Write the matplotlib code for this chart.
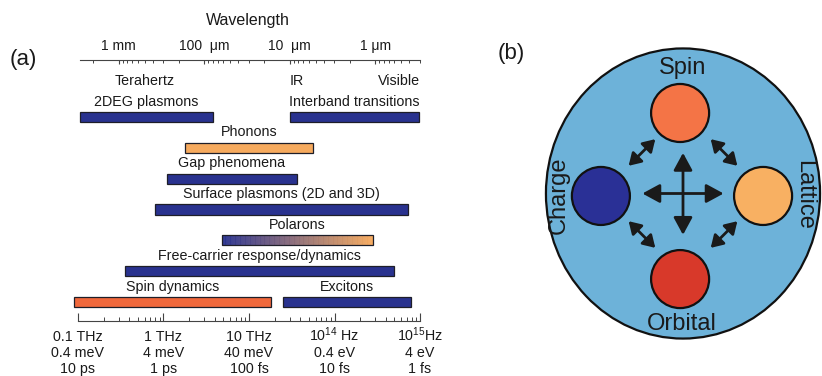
import matplotlib
matplotlib.use('Agg')
import matplotlib.pyplot as plt
import numpy as np
from matplotlib.patches import Circle, Ellipse, FancyArrowPatch
from matplotlib.colors import to_rgb
from matplotlib.ticker import NullFormatter

plt.rcParams['font.family'] = ['Liberation Sans', 'DejaVu Sans']
plt.rcParams['mathtext.fontset'] = 'custom'
plt.rcParams['mathtext.rm'] = 'Liberation Sans'
plt.rcParams['mathtext.it'] = 'Liberation Sans:italic'

# ============================================================
# data: panel (a)  -- frequency ranges in Hz
# ============================================================
names = ['2DEG plasmons', 'Interband transitions', 'Phonons', 'Gap phenomena',
         'Surface plasmons (2D and 3D)', 'Polarons',
         'Free-carrier response/dynamics', 'Spin dynamics', 'Excitons']
f_lo = [1.05e11, 3.0e13, 1.8e12, 1.1e12, 8.0e11, 4.8e12, 3.5e11, 9.0e10, 2.5e13]
f_hi = [3.8e12, 9.8e14, 5.6e13, 3.6e13, 7.3e14, 2.8e14, 5.0e14, 1.8e13, 7.9e14]
rows = [0, 0, 1, 2, 3, 4, 5, 6, 6]
kinds = ['blue', 'blue', 'orange', 'blue', 'blue', 'grad', 'blue', 'spin', 'blue']

freq_ticks = [1e11, 1e12, 1e13, 1e14, 1e15]
freq_line1 = ['0.1 THz', '1 THz', '10 THz', '$10^{14}$ Hz', '$10^{15}$Hz']
freq_line2 = ['0.4 meV', '4 meV', '40 meV', '0.4 eV', '4 eV']
freq_line3 = ['10 ps', '1 ps', '100 fs', '10 fs', '1 fs']
wl_ticks = [1e-3, 1e-4, 1e-5, 1e-6]          # metres
wl_labels = ['1 mm', '100  μm', '10  μm', '1 μm']

band_names = ['Terahertz', 'IR', 'Visible']
band_f = [6.0e11, 3.0e13, 1.0e15]
band_ha = ['center', 'left', 'right']

# ============================================================
# data: panel (b)  -- diagram
# ============================================================
nodes = ['Spin', 'Charge', 'Lattice', 'Orbital']
node_x = [-0.02, -0.566, 0.552, -0.02]
node_y = [0.555, -0.017, -0.017, -0.59]
node_colors = ['#f47446', '#2a3096', '#f8b062', '#d8392a']
label_x = [0.0, -0.855, 0.835, -0.01]
label_y = [0.865, -0.01, -0.01, -0.9]
label_rot = [0, 90, 270, 0]

NAVY = '#29328f'
COLORS = {'blue': NAVY, 'orange': '#f6aa5e', 'spin': '#f0683c'}
EDGE = '#1e1e28'
TXT = '#1a1a1a'
C_LIGHT = 2.998e8

W, H = 822, 376
fig = plt.figure(figsize=(W / 100, H / 100), dpi=100)

# ---------------- panel (a) ----------------
ax = fig.add_axes([70 / W, 1 - 321 / H, 358 / W, 261 / H])
ax.set_xscale('log')


def px2f(p):
    return 10 ** (11 + (p - 78) / 85.5)


ax.set_xlim(px2f(70), px2f(428))
ax.set_ylim(6.617, -1.849)

bar_h = 0.33
for name, lo, hi, r, k in zip(names, f_lo, f_hi, rows, kinds):
    if k == 'grad':
        edges = np.geomspace(lo, hi, 121)
        c0, c1 = np.array(to_rgb(NAVY)), np.array(to_rgb('#f6aa5e'))
        for i in range(len(edges) - 1):
            t = i / (len(edges) - 2)
            col = c0 * (1 - t) + c1 * t
            ax.barh(r, edges[i + 1] - edges[i], left=edges[i], height=bar_h,
                    color=col, edgecolor=col, linewidth=0.4)
        ax.barh(r, hi - lo, left=lo, height=bar_h, fill=False,
                edgecolor=EDGE, linewidth=0.9)
    else:
        ax.barh(r, hi - lo, left=lo, height=bar_h, color=COLORS[k],
                edgecolor=EDGE, linewidth=0.9)
    ax.text(np.sqrt(lo * hi), r - 0.5, name, ha='center', va='center',
            fontsize=10.3, color=TXT)

for nm, f, ha in zip(band_names, band_f, band_ha):
    ax.text(f, -1.17, nm, ha=ha, va='center', fontsize=10.3, color=TXT)

for s in ['top', 'left', 'right']:
    ax.spines[s].set_visible(False)
ax.spines['bottom'].set_bounds(1e11, 1e15)
ax.spines['bottom'].set_color('#444444')
ax.spines['bottom'].set_linewidth(0.8)
ax.set_yticks([])
ax.set_xticks(freq_ticks, labels=[''] * len(freq_ticks))
minor_f = [m * 10.0 ** k for k in range(11, 15) for m in range(2, 10)]
ax.set_xticks(minor_f, minor=True)
ax.xaxis.set_minor_formatter(NullFormatter())
ax.tick_params(axis='x', which='major', direction='in', length=5.8, width=0.8,
               color='#444444')
ax.tick_params(axis='x', which='minor', direction='in', length=2.9, width=0.7,
               color='#444444')

# three rows of unit labels under the frequency axis (baseline aligned)
xtrans = ax.get_xaxis_transform()
for line, yb in zip([freq_line1, freq_line2, freq_line3], [341, 357, 373]):
    for f, s in zip(freq_ticks, line):
        ax.text(f, (321 - yb) / 261, s, transform=xtrans, ha='center',
                va='baseline', fontsize=10.3, color=TXT, clip_on=False)

# wavelength axis on top
ax2 = ax.twiny()
ax2.set_xscale('log')
ax2.set_xlim(ax.get_xlim())
ax2.set_xticks(C_LIGHT / np.array(wl_ticks), labels=wl_labels)
wl_minor = [m * 10.0 ** k for k in range(-7, -2) for m in range(2, 10)]
f_minor = [C_LIGHT / w for w in wl_minor if 1e11 <= C_LIGHT / w <= 1e15]
ax2.set_xticks(f_minor, minor=True)
ax2.xaxis.set_minor_formatter(NullFormatter())
for s in ['bottom', 'left', 'right']:
    ax2.spines[s].set_visible(False)
ax2.spines['top'].set_bounds(1.05e11, 1e15)
ax2.spines['top'].set_color('#444444')
ax2.spines['top'].set_linewidth(0.8)
ax2.tick_params(axis='x', which='major', direction='in', length=3.2, width=0.8,
                pad=5, labelsize=10, color='#444444', labelcolor=TXT)
ax2.tick_params(axis='x', which='minor', direction='in', length=2.0, width=0.7,
                color='#444444')

fig.text(248 / W, 1 - 21 / H, 'Wavelength', ha='center', va='center',
         fontsize=11.5, color=TXT)
fig.text(23 / W, 1 - 60 / H, '(a)', ha='center', va='center', fontsize=16,
         color=TXT)

# ---------------- panel (b) ----------------
axb = fig.add_axes([523 / W, 1 - 353.5 / H, 320 / W, 320 / H])
axb.set_xlim(-1.103, 1.103)
axb.set_ylim(-1.103, 1.103)
axb.axis('off')

axb.add_patch(Ellipse((0, 0), 2 * 137 / 145, 2.0, facecolor='#6db2d9',
                      edgecolor='#111111', linewidth=1.6))
for nm, x, y, c, lx, ly, rot in zip(nodes, node_x, node_y, node_colors,
                                    label_x, label_y, label_rot):
    axb.add_patch(Circle((x, y), 0.2, facecolor=c, edgecolor='#111111',
                         linewidth=1.6))
    axb.text(lx, ly, nm, ha='center', va='center', rotation=rot,
             fontsize=17, color=TXT)

# central cross
cross_kw = dict(arrowstyle='<|-|>,head_length=0.7,head_width=0.38',
                mutation_scale=15, linewidth=2.0, color='#1a1a1a',
                shrinkA=0, shrinkB=0)
axb.add_patch(FancyArrowPatch((-0.28, 0), (0.28, 0), **cross_kw))
axb.add_patch(FancyArrowPatch((0, 0.28), (0, -0.285), **cross_kw))

# diagonal couplings between neighbouring nodes
diag_kw = dict(arrowstyle='<|-|>,head_length=0.65,head_width=0.4',
               mutation_scale=11, linewidth=2.0, color='#1a1a1a',
               shrinkA=0, shrinkB=0)
for ang in np.deg2rad([45, 135, 225, 315]):
    cx, cy = 0.40 * np.cos(ang), 0.40 * np.sin(ang)
    dx, dy = -np.sin(ang) * 0.13, np.cos(ang) * 0.13
    axb.add_patch(FancyArrowPatch((cx - dx, cy - dy), (cx + dx, cy + dy),
                                  **diag_kw))

fig.text(511 / W, 1 - 54 / H, '(b)', ha='center', va='center', fontsize=16,
         color=TXT)

fig.savefig('out.png', dpi=100)
